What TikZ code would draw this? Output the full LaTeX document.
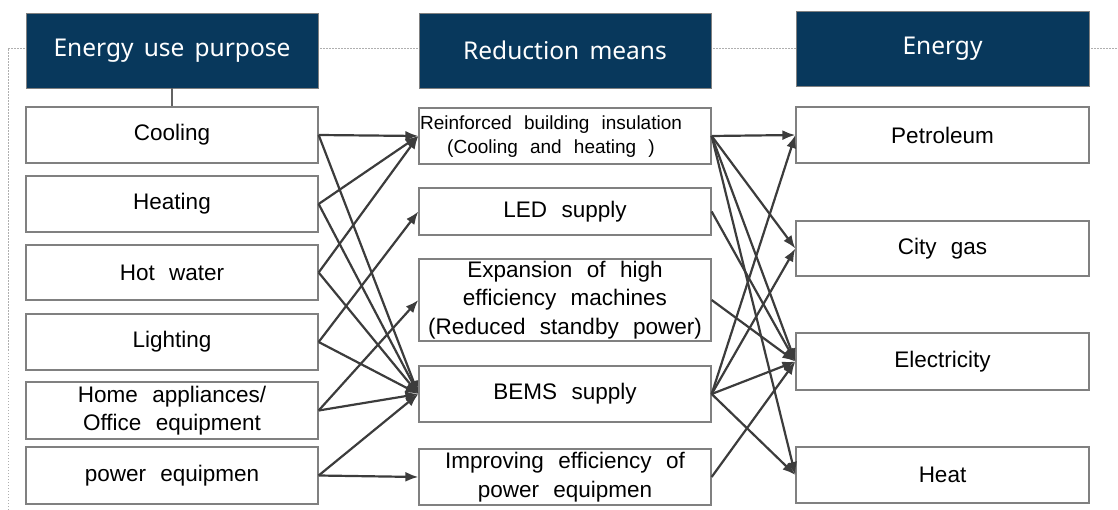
\documentclass[tikz,border=0pt]{standalone}
\usepackage{fontspec}
\setmainfont{Liberation Sans}[WordSpace=2.3]
\newfontfamily\hdrfont{Noto Sans}[WordSpace=1.6]
\usetikzlibrary{arrows.meta}
\definecolor{navy}{RGB}{8,56,92}
\definecolor{boxgray}{RGB}{128,128,128}
\definecolor{arrgray}{RGB}{60,60,60}
\definecolor{dotgray}{RGB}{175,175,175}
\tikzset{
  hdr/.style={draw=boxgray, line width=0.8pt, fill=navy, text=white, font=\hdrfont\fontsize{24.5}{29}\selectfont, minimum width=292pt, minimum height=75pt, inner sep=0pt},
  box/.style={draw=boxgray, line width=1.3pt, fill=white, font=\fontsize{22.5}{28.5}\selectfont, minimum width=292pt, inner sep=0pt, align=center},
  arr/.style={draw=arrgray, line width=2.2pt, -{Latex[length=13pt,width=10pt]}},
  link/.style={draw=arrgray!80, line width=1.4pt},
  frame/.style={draw=dotgray, line width=0.9pt, dash pattern=on 1.5pt off 1.5pt},
}
\begin{document}
\begin{tikzpicture}[x=1pt,y=-1pt]
\useasboundingbox (0,0) rectangle (1118,510);
% dotted frame
\coordinate (fa) at (8,510);
\coordinate (fb) at (8,48);
\coordinate (fc) at (1118,48);
\draw[frame] (fa) -- (fb) -- (fc);
% headers
\node[hdr] (h1) at (172,50.5) {Energy use purpose};
\node[hdr] (h2) at (565,50.5) {Reduction means};
\node[hdr, minimum width=293pt] (h3) at (942.5,48.5) {Energy};
% left column
\node[box, minimum height=56pt] (cool) at (172,135) {Cooling};
\node[box, minimum height=56pt] (heat) at (172,204) {Heating};
\node[box, minimum height=55pt] (hot) at (172,272.5) {Hot water};
\node[box, minimum height=56pt] (light) at (172,342) {Lighting};
\node[box, minimum height=57pt] (home) at (172,410.5) {Home appliances/\\Office equipment};
\node[box, minimum height=57pt] (pow) at (172,475.5) {power equipmen};
\draw[link] (h1.south) -- (cool.north);
% middle column
\node[box, minimum height=56pt] (reinf) at (565,136) {};
\node[font=\fontsize{19}{24}\selectfont, align=center, inner sep=0pt] (reinft) at (551,137) {Reinforced building insulation\\(Cooling and heating )};
\node[box, minimum height=47pt] (led) at (565,211.5) {LED supply};
\node[box, minimum height=82pt] (exp) at (565,300) {Expansion of high\\efficiency machines\\(Reduced standby power)};
\node[box, minimum height=56pt] (bems) at (565,394) {BEMS supply};
\node[box, minimum height=56pt] (impr) at (565,477) {Improving efficiency of\\power equipmen};
% right column
\node[box, minimum width=293pt, minimum height=56pt] (pet) at (942.5,135) {Petroleum};
\node[box, minimum width=293pt, minimum height=55pt] (gas) at (942.5,248.5) {City gas};
\node[box, minimum width=293pt, minimum height=57pt] (elec) at (942.5,361.5) {Electricity};
\node[box, minimum width=293pt, minimum height=56pt] (heatE) at (942.5,475) {Heat};
% left arrows
\draw[arr] (cool.east) -- (reinf.west);
\draw[arr] (cool.east) -- (bems.west);
\draw[arr] (heat.east) -- (reinf.west);
\draw[arr] (heat.east) -- (bems.west);
\draw[arr] (hot.east) -- (reinf.west);
\draw[arr] (hot.east) -- (bems.west);
\draw[arr] (light.east) -- (led.west);
\draw[arr] (light.east) -- (bems.west);
\draw[arr] (home.east) -- (exp.west);
\draw[arr] (home.east) -- (bems.west);
\draw[arr] (pow.east) -- (bems.west);
\draw[arr] (pow.east) -- (impr.west);
% right arrows
\draw[arr] (reinf.east) -- (pet.west);
\draw[arr] (reinf.east) -- (gas.west);
\draw[arr] (reinf.east) -- (elec.west);
\draw[arr] (reinf.east) -- (heatE.west);
\draw[arr] (led.east) -- (elec.west);
\draw[arr] (exp.east) -- (elec.west);
\draw[arr] (bems.east) -- (pet.west);
\draw[arr] (bems.east) -- (gas.west);
\draw[arr] (bems.east) -- (elec.west);
\draw[arr] (bems.east) -- (heatE.west);
\draw[arr] (impr.east) -- (elec.west);
\end{tikzpicture}
\end{document}
